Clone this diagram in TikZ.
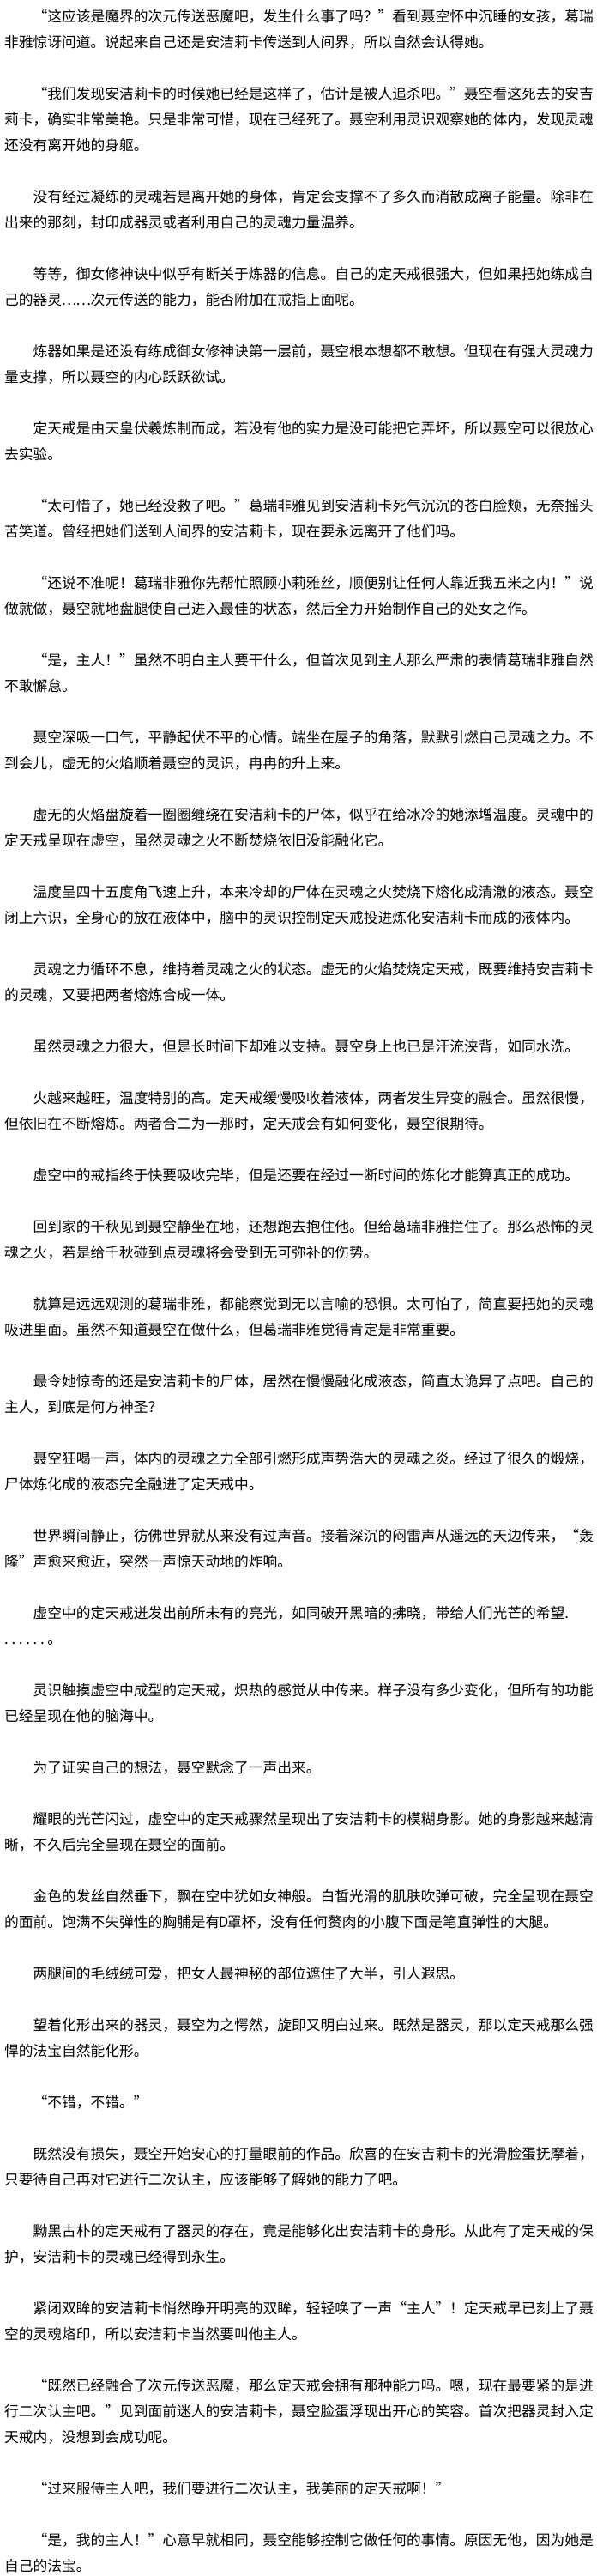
\documentclass[tikz,border=0pt]{standalone}
\usepackage{fontspec}
\setmainfont{Noto Sans CJK SC}
\newcommand\qopen{\makebox[1em][r]{“}}
\newcommand\qclose{\makebox[1em][l]{”}}
\newcommand\cjkdots{\makebox[1em]{…}\makebox[1em]{…}}
\newcommand\halfdot{\makebox[.5em][l]{.}}

\begin{document}
\begin{tikzpicture}[x=1pt,y=-30pt,
  txtline/.style={anchor=base west,inner sep=0pt,yshift=-25.4pt,
    font=\fontsize{16.75pt}{30pt}\selectfont}]

\path[use as bounding box,fill=white] (0,0) rectangle (702,100.0333);

\node[txtline] (r0) at (38.5,0) {\qopen{}这应该是魔界的次元传送恶魔吧，发生什么事了吗？\qclose{}看到聂空怀中沉睡的女孩，葛瑞};
\node[txtline] (r1) at (5,1) {非雅惊讶问道。说起来自己还是安洁莉卡传送到人间界，所以自然会认得她。};

\node[txtline] (r3) at (38.5,3) {\qopen{}我们发现安洁莉卡的时候她已经是这样了，估计是被人追杀吧。\qclose{}聂空看这死去的安吉};
\node[txtline] (r4) at (5,4) {莉卡，确实非常美艳。只是非常可惜，现在已经死了。聂空利用灵识观察她的体内，发现灵魂};
\node[txtline] (r5) at (5,5) {还没有离开她的身躯。};

\node[txtline] (r7) at (38.5,7) {没有经过凝练的灵魂若是离开她的身体，肯定会支撑不了多久而消散成离子能量。除非在};
\node[txtline] (r8) at (5,8) {出来的那刻，封印成器灵或者利用自己的灵魂力量温养。};

\node[txtline] (r10) at (38.5,10) {等等，御女修神诀中似乎有断关于炼器的信息。自己的定天戒很强大，但如果把她练成自};
\node[txtline] (r11) at (5,11) {己的器灵\cjkdots{}次元传送的能力，能否附加在戒指上面呢。};

\node[txtline] (r13) at (38.5,13) {炼器如果是还没有练成御女修神诀第一层前，聂空根本想都不敢想。但现在有强大灵魂力};
\node[txtline] (r14) at (5,14) {量支撑，所以聂空的内心跃跃欲试。};

\node[txtline] (r16) at (38.5,16) {定天戒是由天皇伏羲炼制而成，若没有他的实力是没可能把它弄坏，所以聂空可以很放心};
\node[txtline] (r17) at (5,17) {去实验。};

\node[txtline] (r19) at (38.5,19) {\qopen{}太可惜了，她已经没救了吧。\qclose{}葛瑞非雅见到安洁莉卡死气沉沉的苍白脸颊，无奈摇头};
\node[txtline] (r20) at (5,20) {苦笑道。曾经把她们送到人间界的安洁莉卡，现在要永远离开了他们吗。};

\node[txtline] (r22) at (38.5,22) {\qopen{}还说不准呢！葛瑞非雅你先帮忙照顾小莉雅丝，顺便别让任何人靠近我五米之内！\qclose{}说};
\node[txtline] (r23) at (5,23) {做就做，聂空就地盘腿使自己进入最佳的状态，然后全力开始制作自己的处女之作。};

\node[txtline] (r25) at (38.5,25) {\qopen{}是，主人！\qclose{}虽然不明白主人要干什么，但首次见到主人那么严肃的表情葛瑞非雅自然};
\node[txtline] (r26) at (5,26) {不敢懈怠。};

\node[txtline] (r28) at (38.5,28) {聂空深吸一口气，平静起伏不平的心情。端坐在屋子的角落，默默引燃自己灵魂之力。不};
\node[txtline] (r29) at (5,29) {到会儿，虚无的火焰顺着聂空的灵识，冉冉的升上来。};

\node[txtline] (r31) at (38.5,31) {虚无的火焰盘旋着一圈圈缠绕在安洁莉卡的尸体，似乎在给冰冷的她添增温度。灵魂中的};
\node[txtline] (r32) at (5,32) {定天戒呈现在虚空，虽然灵魂之火不断焚烧依旧没能融化它。};

\node[txtline] (r34) at (38.5,34) {温度呈四十五度角飞速上升，本来冷却的尸体在灵魂之火焚烧下熔化成清澈的液态。聂空};
\node[txtline] (r35) at (5,35) {闭上六识，全身心的放在液体中，脑中的灵识控制定天戒投进炼化安洁莉卡而成的液体内。};

\node[txtline] (r37) at (38.5,37) {灵魂之力循环不息，维持着灵魂之火的状态。虚无的火焰焚烧定天戒，既要维持安吉莉卡};
\node[txtline] (r38) at (5,38) {的灵魂，又要把两者熔炼合成一体。};

\node[txtline] (r40) at (38.5,40) {虽然灵魂之力很大，但是长时间下却难以支持。聂空身上也已是汗流浃背，如同水洗。};

\node[txtline] (r42) at (38.5,42) {火越来越旺，温度特别的高。定天戒缓慢吸收着液体，两者发生异变的融合。虽然很慢，};
\node[txtline] (r43) at (5,43) {但依旧在不断熔炼。两者合二为一那时，定天戒会有如何变化，聂空很期待。};

\node[txtline] (r45) at (38.5,45) {虚空中的戒指终于快要吸收完毕，但是还要在经过一断时间的炼化才能算真正的成功。};

\node[txtline] (r47) at (38.5,47) {回到家的千秋见到聂空静坐在地，还想跑去抱住他。但给葛瑞非雅拦住了。那么恐怖的灵};
\node[txtline] (r48) at (5,48) {魂之火，若是给千秋碰到点灵魂将会受到无可弥补的伤势。};

\node[txtline] (r50) at (38.5,50) {就算是远远观测的葛瑞非雅，都能察觉到无以言喻的恐惧。太可怕了，简直要把她的灵魂};
\node[txtline] (r51) at (5,51) {吸进里面。虽然不知道聂空在做什么，但葛瑞非雅觉得肯定是非常重要。};

\node[txtline] (r53) at (38.5,53) {最令她惊奇的还是安洁莉卡的尸体，居然在慢慢融化成液态，简直太诡异了点吧。自己的};
\node[txtline] (r54) at (5,54) {主人，到底是何方神圣？};

\node[txtline] (r56) at (38.5,56) {聂空狂喝一声，体内的灵魂之力全部引燃形成声势浩大的灵魂之炎。经过了很久的煅烧，};
\node[txtline] (r57) at (5,57) {尸体炼化成的液态完全融进了定天戒中。};

\node[txtline] (r59) at (38.5,59) {世界瞬间静止，彷佛世界就从来没有过声音。接着深沉的闷雷声从遥远的天边传来，\qopen{}轰};
\node[txtline] (r60) at (5,60) {隆\qclose{}声愈来愈近，突然一声惊天动地的炸响。};

\node[txtline] (r62) at (38.5,62) {虚空中的定天戒迸发出前所未有的亮光，如同破开黑暗的拂晓，带给人们光芒的希望\halfdot};
\node[txtline] (r63) at (5,63) {\halfdot\halfdot\halfdot\halfdot\halfdot\halfdot{}。};

\node[txtline] (r65) at (38.5,65) {灵识触摸虚空中成型的定天戒，炽热的感觉从中传来。样子没有多少变化，但所有的功能};
\node[txtline] (r66) at (5,66) {已经呈现在他的脑海中。};

\node[txtline] (r68) at (38.5,68) {为了证实自己的想法，聂空默念了一声出来。};

\node[txtline] (r70) at (38.5,70) {耀眼的光芒闪过，虚空中的定天戒骤然呈现出了安洁莉卡的模糊身影。她的身影越来越清};
\node[txtline] (r71) at (5,71) {晰，不久后完全呈现在聂空的面前。};

\node[txtline] (r73) at (38.5,73) {金色的发丝自然垂下，飘在空中犹如女神般。白皙光滑的肌肤吹弹可破，完全呈现在聂空};
\node[txtline] (r74) at (5,74) {的面前。饱满不失弹性的胸脯是有\makebox[.5em]{D}罩杯，没有任何赘肉的小腹下面是笔直弹性的大腿。};

\node[txtline] (r76) at (38.5,76) {两腿间的毛绒绒可爱，把女人最神秘的部位遮住了大半，引人遐思。};

\node[txtline] (r78) at (38.5,78) {望着化形出来的器灵，聂空为之愕然，旋即又明白过来。既然是器灵，那以定天戒那么强};
\node[txtline] (r79) at (5,79) {悍的法宝自然能化形。};

\node[txtline] (r81) at (38.5,81) {\qopen{}不错，不错。\qclose};

\node[txtline] (r83) at (38.5,83) {既然没有损失，聂空开始安心的打量眼前的作品。欣喜的在安吉莉卡的光滑脸蛋抚摩着，};
\node[txtline] (r84) at (5,84) {只要待自己再对它进行二次认主，应该能够了解她的能力了吧。};

\node[txtline] (r86) at (38.5,86) {黝黑古朴的定天戒有了器灵的存在，竟是能够化出安洁莉卡的身形。从此有了定天戒的保};
\node[txtline] (r87) at (5,87) {护，安洁莉卡的灵魂已经得到永生。};

\node[txtline] (r89) at (38.5,89) {紧闭双眸的安洁莉卡悄然睁开明亮的双眸，轻轻唤了一声\qopen{}主人\qclose{}！定天戒早已刻上了聂};
\node[txtline] (r90) at (5,90) {空的灵魂烙印，所以安洁莉卡当然要叫他主人。};

\node[txtline] (r92) at (38.5,92) {\qopen{}既然已经融合了次元传送恶魔，那么定天戒会拥有那种能力吗。嗯，现在最要紧的是进};
\node[txtline] (r93) at (5,93) {行二次认主吧。\qclose{}见到面前迷人的安洁莉卡，聂空脸蛋浮现出开心的笑容。首次把器灵封入定};
\node[txtline] (r94) at (5,94) {天戒内，没想到会成功呢。};

\node[txtline] (r96) at (38.5,96) {\qopen{}过来服侍主人吧，我们要进行二次认主，我美丽的定天戒啊！\qclose};

\node[txtline] (r98) at (38.5,98) {\qopen{}是，我的主人！\qclose{}心意早就相同，聂空能够控制它做任何的事情。原因无他，因为她是};
\node[txtline] (r99) at (5,99) {自己的法宝。};

\end{tikzpicture}
\end{document}
